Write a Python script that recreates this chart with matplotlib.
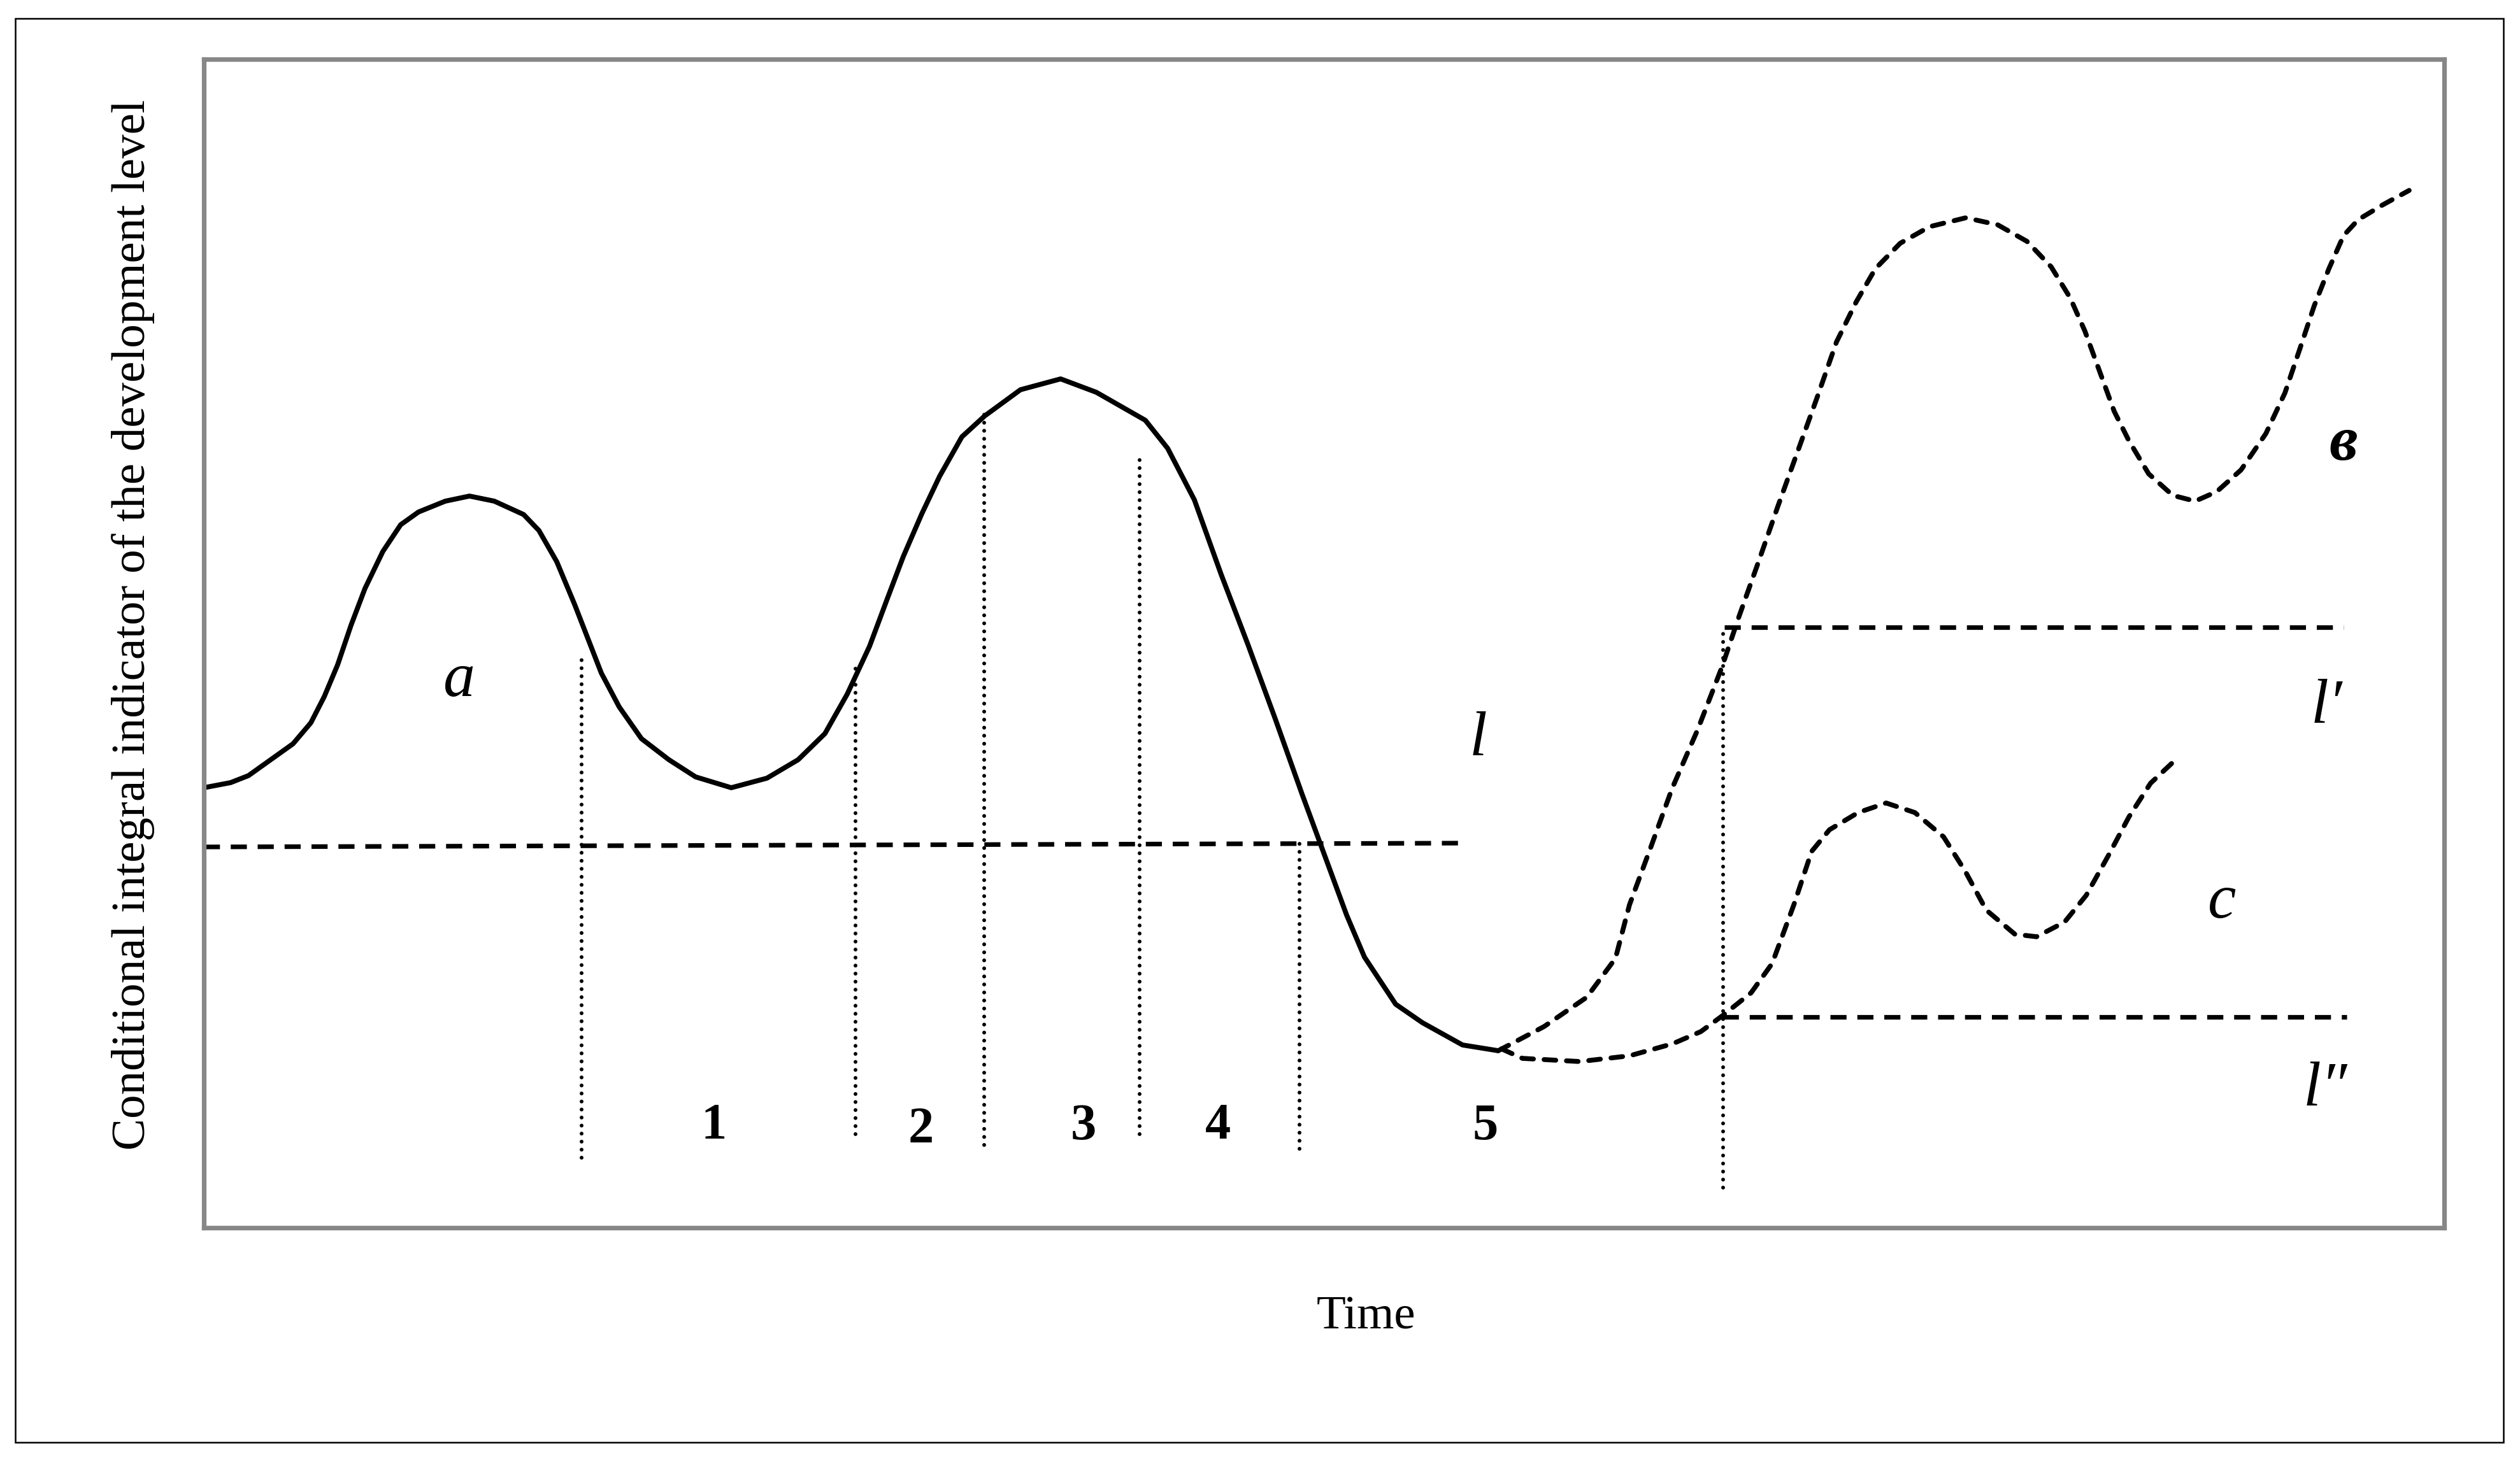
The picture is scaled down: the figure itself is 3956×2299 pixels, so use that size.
import numpy as np
import matplotlib
matplotlib.use("Agg")
import matplotlib.pyplot as plt
from matplotlib.patches import Rectangle

plt.rcParams['font.family'] = ['Liberation Serif', 'DejaVu Serif']

# main trajectory (solid), time vs level in arbitrary units
main_t = [0, 42, 70, 105, 140, 168, 189, 210, 231, 253, 281, 309, 337, 379, 417, 456,
          502, 526, 554, 582, 603, 624, 652, 687, 730, 772, 828, 884, 933, 975, 1010,
          1045, 1073, 1098, 1127, 1155, 1190, 1226, 1282, 1345, 1401, 1478, 1513, 1555,
          1597, 1639, 1682, 1724, 1759, 1794, 1822, 1871, 1913, 1976, 2032]
main_v = [691, 699, 710, 735, 760, 793, 834, 884, 946, 1004, 1062, 1104, 1124, 1141, 1149, 1141,
          1120, 1095, 1046, 979, 925, 871, 818, 768, 735, 708, 691, 706, 735, 776, 838,
          913, 988, 1054, 1121, 1180, 1242, 1275, 1316, 1333, 1312, 1268, 1224, 1143,
          1026, 916, 799, 681, 586, 491, 425, 351, 322, 287, 278]

# scenario "в" (upper dashed)
up_t = [2032, 2104, 2171, 2216, 2238, 2272, 2305, 2345, 2383, 2410, 2441, 2471, 2502, 2533,
        2563, 2594, 2624, 2663, 2709, 2766, 2816, 2862, 2900, 2930, 2953, 2976, 2999, 3022,
        3053, 3091, 3126, 3160, 3198, 3237, 3267, 3290, 3313, 3336, 3359, 3382, 3420, 3462]
up_v = [278, 316, 362, 423, 507, 599, 690, 782, 880, 960, 1047, 1133, 1219, 1305,
        1391, 1454, 1506, 1546, 1572, 1586, 1575, 1549, 1509, 1460, 1408, 1345, 1282, 1236,
        1184, 1150, 1141, 1156, 1190, 1247, 1311, 1379, 1448, 1506, 1558, 1583, 1606, 1629]

# scenario "c" (lower dashed)
low_t = [2037, 2070, 2160, 2238, 2306, 2350, 2384, 2429, 2462, 2496, 2524, 2552, 2597, 2641,
         2686, 2731, 2765, 2798, 2843, 2877, 2921, 2955, 2989, 3022, 3056, 3089]
low_v = [281, 266, 261, 270, 289, 308, 333, 369, 415, 507, 591, 625, 652, 667,
         652, 614, 560, 499, 461, 457, 480, 522, 583, 645, 698, 729]

# threshold levels l, l', l''
l_t = [0, 1980]
l_v = [598, 604]
l1_t = [2387, 3359]
l1_v = [943, 943]
l2_t = [2384, 3364]
l2_v = [331, 331]

# phase boundaries: time, top, bottom
bound_t = [593, 1023, 1225, 1469, 1720, 2385]
bound_top = [903, 878, 1286, 1217, 607, 943]
bound_bot = [110, 147, 130, 147, 124, 63]

phase_labels = ['1', '2', '3', '4', '5']
phase_t = [801, 1126, 1381, 1592, 2012]
phase_v = [159, 153, 159, 159, 159]

fig = plt.figure(figsize=(39.56, 22.99), dpi=100)
fig.patches.append(Rectangle((24 / 3956, 1 - 2265 / 2299), (3930 - 24) / 3956, (2265 - 29) / 2299,
                             transform=fig.transFigure, fill=False, ec='black', lw=1.8))

ax = fig.add_axes([320 / 3956, 1 - 1928 / 2299, 3517 / 3956, 1835 / 2299])
ax.set_xlim(0, 3517)
ax.set_ylim(0, 1835)
ax.set_xticks([])
ax.set_yticks([])
for s in ax.spines.values():
    s.set_color('#878787')
    s.set_linewidth(5.2)

ax.plot(main_t, main_v, color='black', lw=5.6, solid_capstyle='round', solid_joinstyle='round')
ax.plot(up_t, up_v, color='black', lw=5.5, linestyle=(0, (2.4, 2.2)), dash_capstyle='round')
ax.plot(low_t, low_v, color='black', lw=5.5, linestyle=(0, (2.4, 2.2)), dash_capstyle='round')

for tt, vv in [(l_t, l_v), (l1_t, l1_v), (l2_t, l2_v)]:
    ax.plot(tt, vv, color='black', lw=5.2, linestyle=(0, (3.5, 2.35)))

ax.vlines(bound_t, bound_bot, bound_top, colors='black', lw=4.3,
          linestyles=(0, (0.01, 2.1)), capstyle='round')

for lab, tt, vv in zip(phase_labels, phase_t, phase_v):
    ax.text(tt, vv, lab, fontsize=58, fontweight='bold', ha='center', va='center')

ax.text(400, 859, 'a', fontsize=72, style='italic', ha='center', va='center')
ax.text(2001, 766, 'l', fontsize=72, style='italic', ha='center', va='center')
ax.text(3332, 817, 'l\u2032', fontsize=72, style='italic', ha='center', va='center')
ax.text(3330, 216, 'l\u2033', fontsize=72, style='italic', ha='center', va='center')
ax.text(3168, 511, 'c', fontsize=72, style='italic', ha='center', va='center')
ax.text(3359, 1230, '\u0432', fontsize=72, style='italic', fontweight='bold', ha='center', va='center')

fig.text(2145 / 3956, 1 - 2069 / 2299, 'Time', fontsize=54, ha='center', va='center')
fig.text(209 / 3956, 1 - 981 / 2299, 'Conditional integral indicator of the development level',
         fontsize=54, rotation=90, ha='center', va='center')

fig.savefig('out.png', dpi=100)
